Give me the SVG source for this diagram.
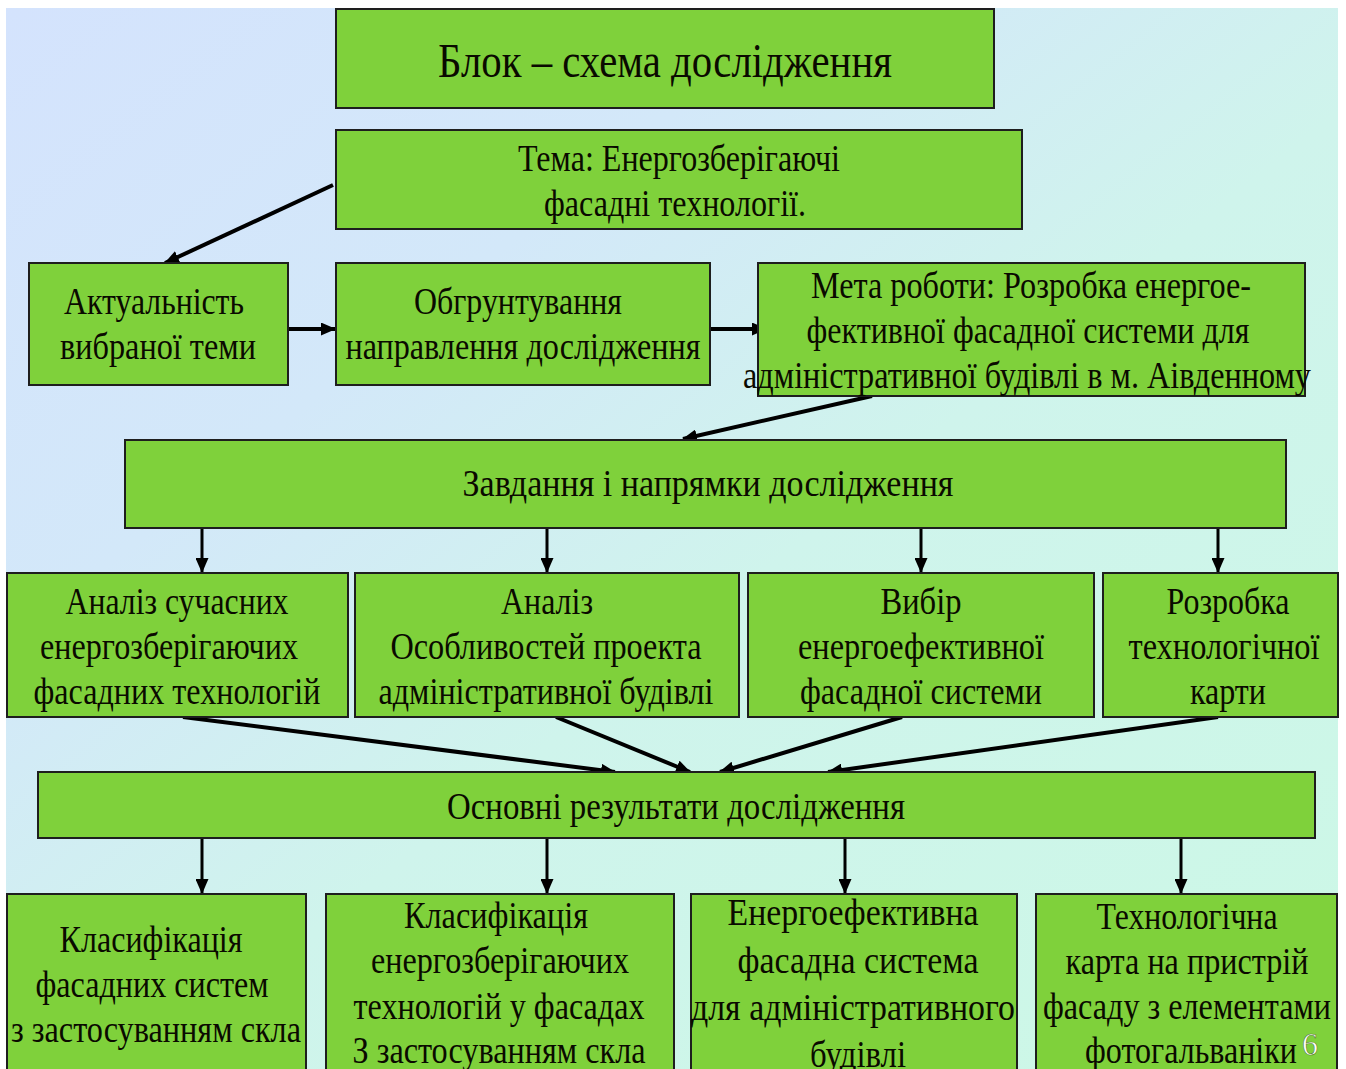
<svg xmlns="http://www.w3.org/2000/svg" width="1346" height="1069" viewBox="0 0 1346 1069">
<style>
.box{fill:#7fd13b;stroke:#1e1e1e;stroke-width:2}
.t{font-family:"Liberation Serif","Times New Roman",serif;font-size:37px;fill:#0a0a00;text-anchor:middle}
.ttl{font-size:48px}
.c{stroke:#000;fill:none}
.d{stroke-width:4}
.v{stroke-width:3}
</style>
<defs>
<linearGradient id="bg" x1="0" y1="0" x2="1" y2="1">
<stop offset="0" stop-color="#d4e3fd"/>
<stop offset="0.3" stop-color="#d3e8f9"/>
<stop offset="0.55" stop-color="#cff4ec"/>
<stop offset="1" stop-color="#ccf8e6"/>
</linearGradient>
<marker id="ah" markerUnits="userSpaceOnUse" markerWidth="15" markerHeight="13" refX="14" refY="6.5" orient="auto">
<path d="M0,0 L15,6.5 L0,13 Z" fill="#000"/>
</marker>
</defs>
<rect x="0" y="0" width="1346" height="1069" fill="#fff"/>
<rect x="6" y="8" width="1332" height="1061" fill="url(#bg)"/>

<g id="connectors">
<line class="c d" x1="333" y1="185" x2="165" y2="263" marker-end="url(#ah)"/>
<line class="c d" x1="288" y1="329" x2="335" y2="329" marker-end="url(#ah)"/>
<line class="c d" x1="710" y1="329" x2="766" y2="329" marker-end="url(#ah)"/>
<line class="c d" x1="872" y1="396" x2="683" y2="439" marker-end="url(#ah)"/>
<line class="c v" x1="202" y1="528" x2="202" y2="572" marker-end="url(#ah)"/>
<line class="c v" x1="547" y1="528" x2="547" y2="572" marker-end="url(#ah)"/>
<line class="c v" x1="921" y1="528" x2="921" y2="572" marker-end="url(#ah)"/>
<line class="c v" x1="1218" y1="528" x2="1218" y2="572" marker-end="url(#ah)"/>
<line class="c d" x1="183" y1="717" x2="615" y2="772" marker-end="url(#ah)"/>
<line class="c d" x1="556" y1="717" x2="690" y2="772" marker-end="url(#ah)"/>
<line class="c d" x1="902" y1="717" x2="720" y2="772" marker-end="url(#ah)"/>
<line class="c d" x1="1218" y1="717" x2="828" y2="772" marker-end="url(#ah)"/>
<line class="c v" x1="202" y1="838" x2="202" y2="893" marker-end="url(#ah)"/>
<line class="c v" x1="547" y1="838" x2="547" y2="893" marker-end="url(#ah)"/>
<line class="c v" x1="845" y1="838" x2="845" y2="893" marker-end="url(#ah)"/>
<line class="c v" x1="1181" y1="838" x2="1181" y2="893" marker-end="url(#ah)"/>
</g>

<g id="title">
<rect class="box" x="336" y="9" width="658" height="99"/>
<text class="t ttl" x="665" y="77" textLength="454" lengthAdjust="spacingAndGlyphs">Блок – схема дослідження</text>
</g>
<g id="tema">
<rect class="box" x="336" y="130" width="686" height="99"/>
<text class="t" x="679" y="171" textLength="322" lengthAdjust="spacingAndGlyphs">Тема: Енергозберігаючі</text>
<text class="t" x="675" y="216" textLength="262" lengthAdjust="spacingAndGlyphs">фасадні технології.</text>
</g>
<g id="aktualnist">
<rect class="box" x="29" y="263" width="259" height="122"/>
<text class="t" x="154" y="314" textLength="180" lengthAdjust="spacingAndGlyphs">Актуальність</text>
<text class="t" x="158" y="359" textLength="196" lengthAdjust="spacingAndGlyphs">вибраної теми</text>
</g>
<g id="obgruntuvannia">
<rect class="box" x="336" y="263" width="374" height="122"/>
<text class="t" x="518" y="314" textLength="208" lengthAdjust="spacingAndGlyphs">Обгрунтування</text>
<text class="t" x="523" y="359" textLength="355" lengthAdjust="spacingAndGlyphs">направлення дослідження</text>
</g>
<g id="meta">
<rect class="box" x="758" y="263" width="547" height="133"/>
<text class="t" x="1031" y="298" textLength="440" lengthAdjust="spacingAndGlyphs">Мета роботи: Розробка енергое-</text>
<text class="t" x="1028" y="343" textLength="443" lengthAdjust="spacingAndGlyphs">фективної фасадної системи для</text>
<text class="t" x="1027" y="388" textLength="568" lengthAdjust="spacingAndGlyphs">адміністративної будівлі в м. Аівденному</text>
</g>
<g id="zavdannia">
<rect class="box" x="125" y="440" width="1161" height="88"/>
<text class="t" x="708" y="496" textLength="491" lengthAdjust="spacingAndGlyphs">Завдання і напрямки дослідження</text>
</g>
<g id="analiz-tekhnolohii">
<rect class="box" x="7" y="573" width="341" height="144"/>
<text class="t" x="177" y="614" textLength="223" lengthAdjust="spacingAndGlyphs">Аналіз сучасних</text>
<text class="t" x="169" y="659" textLength="258" lengthAdjust="spacingAndGlyphs">енергозберігаючих</text>
<text class="t" x="177" y="704" textLength="287" lengthAdjust="spacingAndGlyphs">фасадних технологій</text>
</g>
<g id="analiz-proektu">
<rect class="box" x="355" y="573" width="384" height="144"/>
<text class="t" x="547" y="614" textLength="92" lengthAdjust="spacingAndGlyphs">Аналіз</text>
<text class="t" x="546" y="659" textLength="311" lengthAdjust="spacingAndGlyphs">Особливостей проекта</text>
<text class="t" x="546" y="704" textLength="335" lengthAdjust="spacingAndGlyphs">адміністративної будівлі</text>
</g>
<g id="vybir">
<rect class="box" x="748" y="573" width="346" height="144"/>
<text class="t" x="921" y="614" textLength="81" lengthAdjust="spacingAndGlyphs">Вибір</text>
<text class="t" x="921" y="659" textLength="246" lengthAdjust="spacingAndGlyphs">енергоефективної</text>
<text class="t" x="921" y="704" textLength="242" lengthAdjust="spacingAndGlyphs">фасадної системи</text>
</g>
<g id="rozrobka">
<rect class="box" x="1103" y="573" width="235" height="144"/>
<text class="t" x="1228" y="614" textLength="123" lengthAdjust="spacingAndGlyphs">Розробка</text>
<text class="t" x="1224" y="659" textLength="191" lengthAdjust="spacingAndGlyphs">технологічної</text>
<text class="t" x="1228" y="704" textLength="76" lengthAdjust="spacingAndGlyphs">карти</text>
</g>
<g id="rezultaty">
<rect class="box" x="38" y="772" width="1277" height="66"/>
<text class="t" x="676" y="819" textLength="458" lengthAdjust="spacingAndGlyphs">Основні результати  дослідження</text>
</g>
<g id="klasyfikatsiia-system">
<rect class="box" x="7" y="894" width="299" height="180"/>
<text class="t" x="151" y="952" textLength="183" lengthAdjust="spacingAndGlyphs">Класифікація</text>
<text class="t" x="152" y="997" textLength="233" lengthAdjust="spacingAndGlyphs">фасадних систем</text>
<text class="t" x="156" y="1042" textLength="290" lengthAdjust="spacingAndGlyphs">з застосуванням скла</text>
</g>
<g id="klasyfikatsiia-tekhnolohii">
<rect class="box" x="326" y="894" width="348" height="180"/>
<text class="t" x="496" y="928" textLength="184" lengthAdjust="spacingAndGlyphs">Класифікація</text>
<text class="t" x="500" y="973" textLength="258" lengthAdjust="spacingAndGlyphs">енергозберігаючих</text>
<text class="t" x="499" y="1019" textLength="291" lengthAdjust="spacingAndGlyphs">технологій у фасадах</text>
<text class="t" x="499" y="1063" textLength="293" lengthAdjust="spacingAndGlyphs">З застосуванням скла</text>
</g>
<g id="fasadna-systema">
<rect class="box" x="691" y="894" width="326" height="180"/>
<text class="t" x="853" y="925" textLength="251" lengthAdjust="spacingAndGlyphs">Енергоефективна</text>
<text class="t" x="858" y="973" textLength="241" lengthAdjust="spacingAndGlyphs">фасадна система</text>
<text class="t" x="853" y="1020" textLength="324" lengthAdjust="spacingAndGlyphs">для адміністративного</text>
<text class="t" x="858" y="1067" textLength="96" lengthAdjust="spacingAndGlyphs">будівлі</text>
</g>
<g id="tekhnolohichna-karta">
<rect class="box" x="1036" y="894" width="301" height="180"/>
<text class="t" x="1187" y="929" textLength="181" lengthAdjust="spacingAndGlyphs">Технологічна</text>
<text class="t" x="1187" y="974" textLength="243" lengthAdjust="spacingAndGlyphs">карта на пристрій</text>
<text class="t" x="1187" y="1019" textLength="288" lengthAdjust="spacingAndGlyphs">фасаду з елементами</text>
<text class="t" x="1191" y="1063" textLength="212" lengthAdjust="spacingAndGlyphs">фотогальваніки</text>
</g>
<text x="1310" y="1055" font-family="Liberation Serif, serif" font-size="32" fill="#fff" stroke="#4f7a2a" stroke-width="0.6" text-anchor="middle">6</text>
</svg>
